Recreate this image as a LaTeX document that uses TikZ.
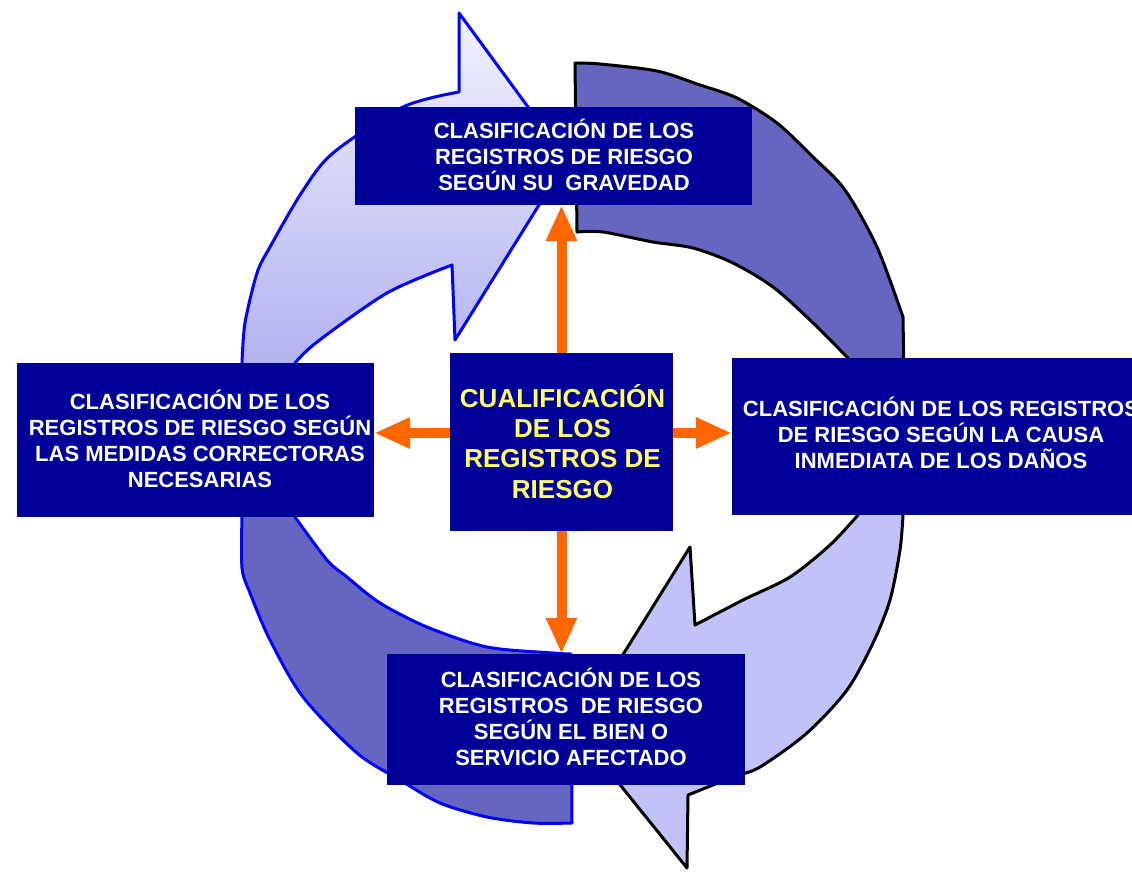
\documentclass[tikz,border=0pt]{standalone}
\usepackage{fontspec}
\setmainfont{Liberation Sans}
\usetikzlibrary{arrows.meta}
\definecolor{boxblue}{RGB}{0,0,153}
\definecolor{bandpurple}{RGB}{102,102,192}
\definecolor{lightarrow}{RGB}{194,194,250}
\definecolor{tltop}{RGB}{242,242,254}
\definecolor{tlbot}{RGB}{165,165,238}
\definecolor{orangeA}{RGB}{255,102,0}
\definecolor{yellowT}{RGB}{255,255,102}
\definecolor{outlineblue}{RGB}{0,0,255}
\newcommand{\topstrut}{\rule{0pt}{1.05em}}
\begin{document}
\begin{tikzpicture}[x=1pt,y=-1pt,
  box/.style={fill=boxblue, draw=none, inner sep=0pt},
  wtxt/.style={text=white, align=center, inner sep=0pt, anchor=north, font=\fontsize{22}{26}\selectfont\bfseries},
  ytxt/.style={text=yellowT, align=center, inner sep=0pt, anchor=north, font=\fontsize{26}{30.3}\selectfont\bfseries},
  bandL/.style={fill=bandpurple, draw=outlineblue, line width=3pt, line join=round},
  tlshape/.style={top color=tltop, bottom color=tlbot, draw=outlineblue, line width=3pt, line join=round},
  bandR/.style={fill=bandpurple, draw=black, line width=3pt, line join=round},
  brshape/.style={fill=lightarrow, draw=black, line width=3pt, line join=round},
  oarrow/.style={draw=orangeA, line width=10pt, -{Triangle[width=29pt,length=36pt]}}
]
\clip (0,0) rectangle (1132,871);
\fill[white] (0,0) rectangle (1132,871);

% circular arrows
\draw[tlshape] (241,440) -- (242,363) -- plot[smooth] coordinates {(242,363) (245,323) (257,273) (270,247) (302,192) (333,153) (403,107) (459,92)} -- (459,13) -- (567,160) -- (455,340) -- (452,265) -- plot[smooth] coordinates {(452,265) (387,293) (317,342) (295,363)} -- (293,440) -- cycle;

\draw[bandL] (241,440) -- (242,517) -- plot[smooth] coordinates {(242,517) (242,568) (250,593) (270,640) (303,697) (357,753) (400,780) (440,803) (487,817) (533,823) (572,823)} -- (571,654) -- plot[smooth] coordinates {(571,654) (553,653) (487,647) (427,627) (380,603) (347,577) (327,560) (295,517)} -- (293,440) -- cycle;

\draw[bandR] (575,63) -- plot[smooth] coordinates {(575,63) (600,64) (657,71) (700,85) (737,98) (777,123) (813,157) (845,190) (877,247) (903,317)} -- (905,440) -- (855,440) -- plot[smooth] coordinates {(848,358) (810,320) (773,287) (733,263) (693,248) (653,242) (603,232) (577,232)} -- cycle;

\draw[brshape] (905,440) -- (903,515) -- plot[smooth] coordinates {(903,515) (900,550) (890,600) (873,643) (847,690) (807,733) (760,767) (733,777) (688,795)} -- (687,868) -- (576,730) -- (690,547) -- (695,625) -- plot[smooth] coordinates {(695,625) (743,600) (790,577) (830,545) (858,515)} -- (855,440) -- cycle;

% boxes
\node[box, minimum width=397pt, minimum height=98pt] (bxT) at (553.5,156) {};
\node[box, minimum width=357pt, minimum height=154pt] (bxL) at (195.5,440) {};
\node[box, minimum width=223pt, minimum height=178pt] (bxC) at (561.5,442) {};
\node[box, minimum width=418pt, minimum height=157pt] (bxR) at (941,436.5) {};
\node[box, minimum width=358pt, minimum height=131pt] (bxB) at (566,719.5) {};

% texts
\node[wtxt] (tT) at (564,114.9) {\topstrut CLASIFICACIÓN DE LOS\\REGISTROS DE RIESGO\\SEGÚN SU~~GRAVEDAD};
\node[wtxt] (tL) at (200,385.9) {\topstrut CLASIFICACIÓN DE LOS\\REGISTROS DE RIESGO SEGÚN\\LAS MEDIDAS CORRECTORAS\\NECESARIAS};
\node[ytxt] (tC) at (562.5,379.7) {\topstrut CUALIFICACIÓN\\DE LOS\\REGISTROS DE\\RIESGO};
\node[wtxt] (tR) at (941,392.9) {\topstrut CLASIFICACIÓN DE LOS REGISTROS\\DE RIESGO SEGÚN LA CAUSA\\INMEDIATA DE LOS DAÑOS};
\node[wtxt] (tB) at (571,663.9) {\topstrut CLASIFICACIÓN DE LOS\\REGISTROS~~DE RIESGO\\SEGÚN EL BIEN O\\SERVICIO AFECTADO};

% orange arrows
\draw[oarrow] (bxC.north) -- (bxC.north |- bxT.south);
\draw[oarrow] (bxC.south) -- (bxC.south |- bxB.north);
\coordinate (cl) at ([yshift=9pt]bxC.west);
\draw[oarrow] (cl) -- (cl -| bxL.east);
\coordinate (cr) at ([yshift=9pt]bxC.east);
\draw[oarrow] (cr) -- (cr -| bxR.west);
\end{tikzpicture}
\end{document}
